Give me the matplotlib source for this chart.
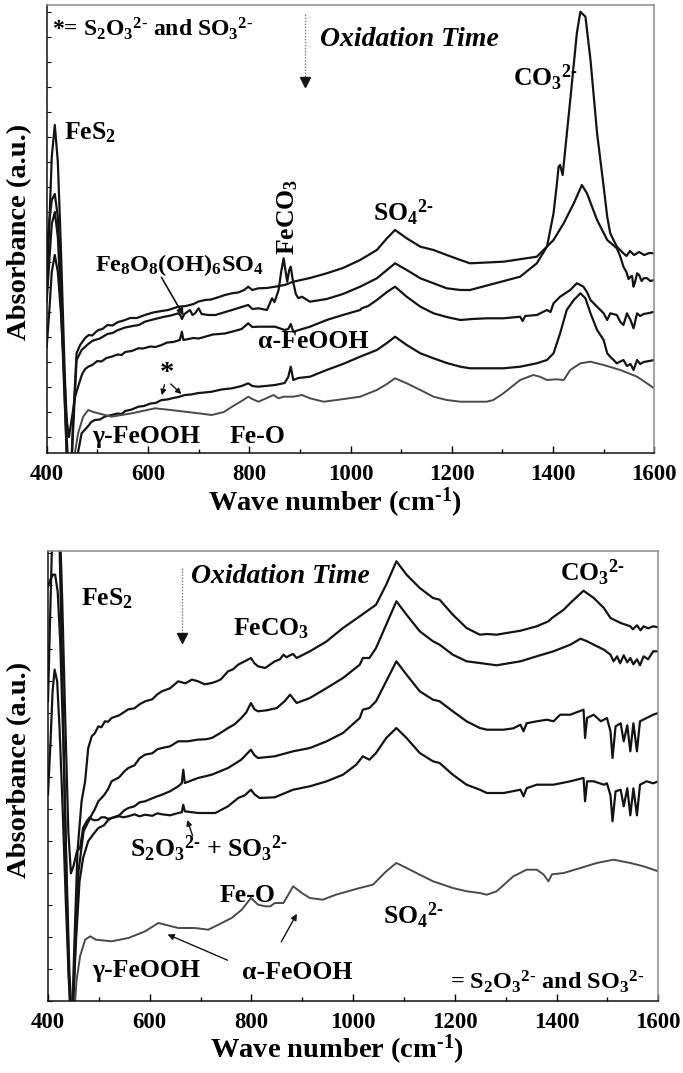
import matplotlib
matplotlib.use('Agg')
import matplotlib.pyplot as plt
from matplotlib.ticker import MultipleLocator

plt.rcParams.update({
    'font.family': ['Liberation Serif', 'DejaVu Serif'],
    'font.weight': 'bold',
    'mathtext.fontset': 'custom',
    'mathtext.rm': 'Liberation Serif:bold',
    'mathtext.it': 'Liberation Serif:bold:italic',
    'mathtext.bf': 'Liberation Serif:bold',
})

# ---------------- Top panel spectra (absorbance, a.u.) ----------------
top_wn_1 = [400, 405, 410, 416, 422, 428, 434, 440, 446, 452, 459, 466, 476, 483, 490, 497, 502, 510,
            520, 530, 541, 552, 565, 578, 594, 610, 627, 640, 660, 675, 690, 700, 713, 725, 740, 752,
            766, 778, 790, 798, 806, 818, 835, 851, 870, 887, 920, 953, 985, 1019, 1052, 1072, 1088,
            1111, 1138, 1164, 1190, 1217, 1236, 1302, 1368, 1401, 1421, 1441, 1457, 1467, 1487, 1507,
            1526, 1533, 1539, 1545, 1549, 1553, 1556, 1559, 1562, 1566, 1570, 1575, 1579, 1585, 1592,
            1600]
top_abs_1 = [165, 235, 305, 337, 300, 215, 115, 20, -35, 40, 108.7, 117, 124, 127, 126.5, 130, 132, 133,
             137, 136.5, 140, 141.5, 144, 144, 147, 149.5, 151, 152, 155.3, 156, 158, 160.5, 162, 162.5,
             165, 167, 168.7, 169.5, 172, 175.3, 172, 173.7, 174, 175.3, 177, 180.3, 184, 188.7, 194, 202,
             212, 223.7, 232, 223.7, 215.3, 212, 207, 202, 198.7, 200.3, 205.3, 222, 238.7, 258.7, 277,
             268.7, 242, 222, 213.7, 205.3, 195.3, 190, 183, 185.3, 186, 175.3, 180, 188.7, 187, 181,
             183.7, 184, 181, 182]

top_wn_2 = [400, 405, 410, 416, 422, 428, 434, 440, 446, 452, 459, 469, 482, 490, 495, 505, 520, 530,
            541, 555, 570, 582, 594, 610, 630, 645, 660, 665, 667, 672, 683, 688, 693, 700, 706, 719,
            733, 766, 798, 806, 818, 835, 845, 850, 858, 863, 868, 872, 875, 879, 882, 886, 892, 897,
            904, 920, 953, 985, 1019, 1052, 1072, 1088, 1111, 1138, 1164, 1190, 1217, 1236, 1335, 1368,
            1388, 1401, 1407, 1411, 1414, 1419, 1434, 1447, 1454, 1464, 1474, 1487, 1500, 1507, 1513,
            1526, 1539, 1545, 1552, 1560, 1570, 1580, 1590, 1600]
top_abs_2 = [210, 240, 262, 268, 245, 180, 90, 0, -40, 30, 102, 112, 118, 121, 122, 123.5, 128, 129, 132,
             134.5, 136, 137, 140.3, 142.5, 145, 146.5, 148.7, 146, 143, 148, 152, 147, 148.7, 153.7, 148,
             147, 147, 152, 157, 153, 153.7, 152, 163.7, 160, 172, 190, 203.7, 190, 180.3, 192, 195.3,
             182, 168, 163.7, 165.3, 160.3, 163, 168, 175.3, 183.7, 192, 198.7, 192, 183.7, 178.7, 173.7,
             172, 172, 185.3, 198.7, 215.3, 248.7, 275.3, 295.3, 297, 287, 362, 428.7, 450.3, 445.3,
             402, 328.7, 275.3, 245.3, 228.7, 215.3, 208.7, 206, 211, 207, 210, 207, 209, 208.7]

top_wn_3 = [400, 405, 410, 416, 422, 428, 434, 440, 444, 450, 456, 462, 470, 476, 482, 490, 500, 508,
            518, 528, 540, 548, 555, 568, 581, 590, 605, 615, 627, 638, 650, 663, 667, 670, 690, 700,
            713, 728, 740, 752, 766, 785, 798, 806, 818, 851, 870, 877, 882, 887, 920, 953, 985, 1019,
            1022, 1035, 1052, 1072, 1088, 1111, 1138, 1164, 1190, 1217, 1240, 1269, 1302, 1335, 1340,
            1345, 1368, 1388, 1395, 1401, 1414, 1434, 1447, 1454, 1460, 1467, 1474, 1487, 1500, 1507,
            1513, 1526, 1533, 1539, 1546, 1553, 1559, 1566, 1572, 1579, 1590, 1600]
top_abs_3 = [115, 150, 190, 207, 190, 150, 95, 40, 25, 45, 65, 75.3, 88, 93, 95.3, 97, 101, 100.5, 104,
             105.3, 107.5, 107, 110, 111, 113.7, 113.5, 115.5, 115, 117, 119.5, 120, 122, 130.3, 122,
             124, 123.5, 125.3, 127.5, 128, 128.5, 130.3, 133, 138.7, 135, 135.3, 135.3, 132, 133, 138,
             130.3, 135.3, 142, 147, 152, 153.7, 156, 162, 170, 175.3, 165.3, 155.3, 148.7, 145, 142,
             143, 143.7, 143.7, 145.3, 141, 146, 147, 152, 150, 158.7, 165.3, 172, 178.7, 177, 175.3,
             170, 162, 155.3, 148.7, 142, 148.7, 147, 140, 137, 148.7, 142, 133.7, 148.7, 146, 148, 149,
             150.3]

top_wn_4 = [400, 405, 410, 416, 422, 428, 434, 440, 447, 454, 462, 469, 482, 488, 495, 505, 515, 528,
            540, 548, 555, 568, 581, 592, 605, 615, 627, 638, 650, 660, 673, 685, 700, 712, 726, 745,
            766, 785, 798, 806, 818, 851, 870, 877, 882, 887, 897, 920, 953, 985, 1019, 1052, 1072,
            1088, 1111, 1138, 1164, 1190, 1217, 1236, 1302, 1335, 1368, 1388, 1401, 1414, 1427, 1441,
            1454, 1464, 1474, 1487, 1500, 1507, 1513, 1526, 1539, 1546, 1553, 1559, 1566, 1572, 1579,
            1590, 1600]
top_abs_4 = [160, 200, 238, 250, 225, 160, 80, 5, -30, -10, 10, 28.7, 36, 40, 42, 42.5, 45.5, 47, 48.5,
             48, 51, 52.5, 55.3, 56, 58.5, 59, 62, 62.5, 64, 65, 67, 67.5, 69, 69.5, 70.3, 72.5, 73.7,
             76, 78.7, 76, 75.3, 77, 79, 85, 95.3, 82, 84, 85.3, 92, 98, 105.3, 112, 119, 125.3, 117,
             108.7, 103.7, 99, 95.3, 93.7, 93.7, 95.3, 98.7, 102, 108.7, 128.7, 152, 162, 168.7, 163.7,
             148.7, 132, 122, 108.7, 105.3, 98.7, 102, 96, 98, 92, 102, 98, 100, 101, 102]

top_wn_5 = [450, 456, 462, 472, 482, 492, 502, 528, 568, 614, 645, 673, 700, 726, 750, 766, 785, 798,
            806, 818, 835, 848, 858, 868, 887, 904, 920, 947, 973, 1019, 1052, 1072, 1088, 1111, 1138,
            1164, 1190, 1217, 1236, 1269, 1282, 1302, 1335, 1361, 1374, 1388, 1407, 1421, 1434, 1454,
            1474, 1500, 1533, 1566, 1600]
top_abs_5 = [-10, 10, 28.7, 45.3, 52, 50, 48.7, 45.3, 48.7, 53.7, 52, 50.3, 48.7, 47, 50, 55.3, 61, 65.3,
             63, 60.3, 64, 67, 63.7, 65.3, 65.3, 67, 63.7, 60.3, 62, 65.3, 72, 78, 83.7, 78.7, 72, 65.3,
             62, 60.3, 60.3, 60.3, 62, 68.7, 82, 87, 85.3, 82, 82.7, 82, 92, 98.7, 100.3, 97, 92, 85.3,
             73.7]

# ---------------- Bottom panel spectra (absorbance, a.u.) ----------------
bot_wn_1 = [400, 404, 408, 412, 418, 423, 428, 434, 440, 446, 452, 458, 466, 473, 479, 486, 492, 499,
            505, 512, 518, 525, 540, 558, 570, 580, 591, 605, 615, 624, 640, 656, 670, 683, 695, 708,
            722, 732, 740, 754, 764, 774, 787, 799, 806, 813, 827, 846, 856, 863, 869, 876, 882, 889,
            915, 948, 980, 1013, 1045, 1065, 1085, 1105, 1131, 1157, 1170, 1196, 1223, 1249, 1263, 1282,
            1329, 1361, 1384, 1391, 1414, 1427, 1453, 1473, 1493, 1506, 1526, 1545, 1550, 1558, 1565,
            1571, 1580, 1590, 1600]
bot_abs_1 = [300, 380, 460, 520, 520, 450, 330, 180, 40, -40, 60, 150, 200, 220, 253, 265, 268, 275, 274,
             280, 279.5, 283.3, 286, 292, 293, 297, 300, 302, 307, 310, 313, 320, 318, 321.7, 320, 317,
             318.3, 320, 322, 330, 332, 336.7, 340, 343.3, 338, 335, 333.3, 340, 342, 346.6, 344, 346,
             347.3, 343.3, 350, 360, 373.3, 385, 396.6, 416.6, 440, 426.6, 413.3, 403.3, 401.6, 386.6,
             373.3, 366.6, 367.3, 366.6, 370.6, 375, 380, 383.3, 391.6, 398.3, 410.6, 403.3, 393.3,
             383.3, 378.3, 375, 372, 376, 371, 375, 373, 375, 374]

bot_wn_2 = [400, 405, 410, 414, 419, 424, 430, 436, 442, 448, 454, 460, 470, 486, 492, 499, 510, 518,
            525, 540, 550, 558, 570, 580, 591, 605, 615, 624, 640, 656, 675, 695, 710, 722, 738, 754,
            767, 780, 790, 799, 806, 813, 830, 850, 865, 876, 889, 915, 948, 980, 1013, 1019, 1032,
            1045, 1065, 1085, 1105, 1131, 1157, 1170, 1196, 1223, 1249, 1282, 1329, 1361, 1394, 1427,
            1447, 1460, 1473, 1493, 1506, 1512, 1519, 1525, 1532, 1539, 1545, 1551, 1558, 1564, 1571,
            1580, 1590, 1600]
bot_abs_2 = [415, 422, 426.7, 426.7, 410, 360, 260, 140, 30, -30, 60, 130, 170, 186.6, 192, 200, 206,
             212, 220, 224, 230, 233.3, 236, 243, 246.7, 248, 252, 253.3, 255, 260, 260, 261.7, 262,
             263.3, 268, 273.3, 277, 283.3, 289, 298.3, 292, 290, 291, 293.3, 300, 306.6, 298.3, 303.3,
             313.3, 323.3, 336.6, 343.3, 343.3, 353.3, 376.6, 400, 386.6, 370, 360, 356.6, 346.6, 340,
             338.3, 336, 340, 345, 350, 356.6, 362.6, 360, 356.6, 351.6, 346.6, 340, 345, 338, 346, 339,
             343.3, 337, 342, 336, 345, 342, 350, 350]

bot_wn_3 = [400, 405, 409, 413, 418, 423, 429, 435, 441, 447, 455, 462, 469, 479, 489, 499, 510, 518,
            525, 540, 550, 558, 570, 580, 591, 605, 615, 624, 640, 656, 663, 666, 669, 695, 722, 754,
            780, 799, 806, 813, 846, 882, 915, 948, 980, 1013, 1019, 1032, 1045, 1065, 1085, 1105, 1131,
            1157, 1170, 1196, 1223, 1249, 1263, 1296, 1315, 1329, 1335, 1341, 1361, 1381, 1394, 1407,
            1427, 1453, 1456, 1460, 1473, 1487, 1499, 1506, 1510, 1516, 1526, 1532, 1539, 1545, 1551,
            1558, 1564, 1577, 1590, 1600]
bot_abs_3 = [206.7, 260, 310, 331.7, 320, 270, 190, 100, 20, -30, 60, 120, 143.3, 160, 167, 173.3, 176,
             181, 183.3, 186, 191, 193.3, 195, 199, 200, 203, 205, 206.6, 210, 215, 218, 231.6, 218.3,
             223.3, 226.6, 233.3, 241.6, 251.6, 246, 243.3, 245, 250, 253.3, 260, 268.3, 283.3, 291.6,
             293.3, 300, 320, 340, 326.6, 310, 301.6, 300, 290, 280, 273.3, 271.6, 271.6, 273, 276.6,
             270, 278, 280, 281.6, 280, 286.6, 286.6, 291.6, 263.3, 283.3, 286.6, 280, 283.3, 270, 243.3,
             275, 278, 260, 276, 250, 278, 250, 280, 283.3, 286.6, 288.3]

bot_wn_4 = [400, 404, 410, 416, 422, 428, 434, 440, 445, 450, 457, 463, 469, 476, 482, 486, 492, 499,
            505, 512, 518, 525, 540, 548, 558, 570, 580, 591, 605, 615, 624, 640, 656, 663, 666, 669,
            695, 729, 754, 774, 787, 799, 806, 816, 846, 882, 915, 948, 980, 1006, 1019, 1032, 1045,
            1065, 1085, 1105, 1131, 1157, 1170, 1196, 1223, 1249, 1263, 1296, 1329, 1335, 1341, 1361,
            1394, 1427, 1453, 1456, 1460, 1473, 1493, 1499, 1506, 1510, 1516, 1526, 1532, 1539, 1545,
            1551, 1558, 1564, 1577, 1590, 1600]
bot_abs_4 = [455, 520, 560, 560, 500, 400, 280, 170, 128, 135, 150, 153.3, 173.3, 180, 184, 182, 181,
             181.6, 184, 184, 182.5, 183.3, 185, 184, 185, 187, 185, 186.6, 185.5, 188, 187, 186, 188.3,
             189, 196.6, 190, 188.3, 188.3, 195, 203.3, 206, 211.6, 207, 203.3, 204, 211.6, 215, 220,
             226.6, 236.6, 245, 241.6, 248.3, 263.3, 273.3, 263.3, 248.3, 240, 238.3, 226.6, 216.6,
             211.6, 208.3, 208.3, 211.6, 205, 213, 216.6, 216.6, 220, 223.3, 200, 220, 220, 216.6, 218,
             206, 180, 210, 211.6, 195, 213, 186, 213, 186, 216.6, 220, 218, 220]

bot_wn_5 = [452, 456, 463, 473, 483, 494, 525, 558, 591, 617, 656, 689, 715, 735, 761, 781, 799, 813,
            827, 837, 846, 863, 882, 900, 915, 940, 966, 1013, 1039, 1065, 1085, 1105, 1131, 1157, 1196,
            1223, 1249, 1263, 1282, 1315, 1341, 1361, 1374, 1384, 1391, 1414, 1447, 1479, 1512, 1545,
            1571, 1600]
bot_abs_5 = [-10, 20, 45, 61.6, 65, 61.6, 60, 63.3, 70, 78.3, 73.3, 73.3, 71.6, 76.6, 83.3, 91.6, 103.3,
             96.6, 95, 95, 98.3, 98.3, 115, 108, 103.3, 101.6, 106.6, 113.3, 116.6, 130, 138.3, 133.3,
             126.6, 120, 113.3, 110, 108.3, 106.6, 110, 125, 131.6, 131.6, 127, 120, 127, 128.3, 133.3,
             138.3, 141.6, 138.3, 135, 130]

x_ticks = [400, 600, 800, 1000, 1200, 1400, 1600]

BLACK = '#141414'
GREY = '#4a4a4a'

fig = plt.figure(figsize=(6.83, 10.73), dpi=100)
ax1 = fig.add_axes([46.7 / 683, 1 - 452.7 / 1073, 607.6 / 683, 447.7 / 1073])
ax2 = fig.add_axes([48 / 683, 1 - 1001.3 / 1073, 610.3 / 683, 450 / 1073])

top_curves = [(top_wn_1, top_abs_1), (top_wn_2, top_abs_2), (top_wn_3, top_abs_3), (top_wn_4, top_abs_4)]
for wn, a in top_curves:
    ax1.plot(wn, a, color=BLACK, lw=1.6, solid_joinstyle='round')
ax1.plot(top_wn_5, top_abs_5, color=GREY, lw=1.4)

bot_curves = [(bot_wn_1, bot_abs_1), (bot_wn_2, bot_abs_2), (bot_wn_3, bot_abs_3), (bot_wn_4, bot_abs_4)]
for wn, a in bot_curves:
    ax2.plot(wn, a, color=BLACK, lw=1.6, solid_joinstyle='round')
ax2.plot(bot_wn_5, bot_abs_5, color=GREY, lw=1.4)

ax1.set_ylim(9.3, 457)
ax2.set_ylim(0, 450)
for ax, ystep in ((ax1, 25), (ax2, 32)):
    ax.set_xlim(400, 1600)
    ax.set_xticks(x_ticks)
    ax.xaxis.set_minor_locator(MultipleLocator(100))
    ax.yaxis.set_major_locator(MultipleLocator(ystep))
    ax.tick_params(axis='x', which='major', direction='in', length=5, width=1.0,
                   top=False, labelsize=16.5, pad=8)
    ax.tick_params(axis='x', which='minor', direction='in', length=3, width=1.0, top=False)
    ax.tick_params(axis='y', which='major', direction='in', length=3, width=0.8,
                   right=False, labelleft=False)
    for lab in ax.get_xticklabels():
        lab.set_fontweight('bold')
    ax.spines['bottom'].set_color('#111111')
    ax.spines['left'].set_color('#111111')
    ax.spines['top'].set_color('#8a8a8a')
    ax.spines['right'].set_color('#8a8a8a')
    for s in ax.spines.values():
        s.set_linewidth(1.1)

# axis labels
XLAB = r'Wave number (cm$^{\mathrm{\text{-}1}}$)'
fig.text(335 / 683, 1 - 503 / 1073, XLAB, ha='center', va='center', fontsize=20.5, fontweight='bold')
fig.text(337 / 683, 1 - 1050 / 1073, XLAB, ha='center', va='center', fontsize=20.5, fontweight='bold')
fig.text(20 / 683, 1 - 232 / 1073, 'Absorbance (a.u.)', rotation=90, ha='center', va='center',
         fontsize=20.5, fontweight='bold')
fig.text(20 / 683, 1 - 770 / 1073, 'Absorbance (a.u.)', rotation=90, ha='center', va='center',
         fontsize=20.5, fontweight='bold')

FS = 18.5
S2O3 = r'$\mathrm{S_2O_3{}^{2\text{-}}}$'
SO3 = r'$\mathrm{SO_3{}^{2\text{-}}}$'
SO4 = r'$\mathrm{SO_4{}^{2\text{-}}}$'
CO3 = r'$\mathrm{CO_3{}^{2\text{-}}}$'

# ---------- top annotations ----------
ax1.text(410, 433, '*= ' + S2O3 + ' and ' + SO3, fontsize=17, va='center')
ax1.plot([910, 910], [448, 385], ls=(0, (1, 1.2)), color='#777777', lw=1.0)
ax1.plot([910], [380], marker='v', color=BLACK, ms=7)
ax1.text(940, 422, 'Oxidation Time', fontsize=20, fontstyle='italic', va='center')
ax1.text(1321, 384, CO3, fontsize=FS, va='center')
ax1.text(435, 329, r'$\mathrm{FeS_2}$', fontsize=FS, va='center')
ax1.text(495, 197, r'$\mathrm{Fe_8O_8(OH)_6SO_4}$', fontsize=17.5, va='center')
ax1.annotate('', xy=(673, 144), xytext=(624, 187),
             arrowprops=dict(arrowstyle='-|>', color=BLACK, lw=1.2, mutation_scale=10))
ax1.text(876, 245, r'$\mathrm{FeCO_3}$', fontsize=FS, rotation=90, ha='center', va='center')
ax1.text(1045, 249, SO4, fontsize=FS, va='center')
ax1.text(818, 120, 'α-FeOOH', fontsize=FS, va='center')
ax1.text(637, 88, '*', fontsize=FS + 2, ha='center', va='center')
ax1.annotate('', xy=(626, 64), xytext=(634, 80),
             arrowprops=dict(arrowstyle='-|>', color=BLACK, lw=1.0, mutation_scale=8))
ax1.annotate('', xy=(670, 66), xytext=(641, 80),
             arrowprops=dict(arrowstyle='-|>', color=BLACK, lw=1.0, mutation_scale=8))
ax1.text(489, 25, 'γ-FeOOH', fontsize=FS, va='center')
ax1.text(762, 25, 'Fe-O', fontsize=FS, va='center')

# ---------- bottom annotations ----------
ax2.text(465, 403, r'$\mathrm{FeS_2}$', fontsize=FS, va='center')
ax2.plot([664, 664], [433, 368], ls=(0, (1, 1.2)), color='#777777', lw=1.0)
ax2.plot([664], [363], marker='v', color=BLACK, ms=7)
ax2.text(682, 425, 'Oxidation Time', fontsize=20, fontstyle='italic', va='center')
ax2.text(764, 373, r'$\mathrm{FeCO_3}$', fontsize=FS, va='center')
ax2.text(1406, 428, CO3, fontsize=FS, va='center')
ax2.text(561, 152, S2O3 + ' + ' + SO3, fontsize=FS, va='center')
ax2.annotate('', xy=(672, 184), xytext=(686, 163),
             arrowprops=dict(arrowstyle='-|>', color=BLACK, lw=1.0, mutation_scale=8))
ax2.text(738, 106, 'Fe-O', fontsize=FS, va='center')
ax2.text(486, 31, 'γ-FeOOH', fontsize=FS, va='center')
ax2.text(781, 29, 'α-FeOOH', fontsize=FS, va='center')
ax2.annotate('', xy=(630, 68), xytext=(758, 40),
             arrowprops=dict(arrowstyle='-|>', color=BLACK, lw=1.0, mutation_scale=9))
ax2.annotate('', xy=(892, 90), xytext=(856, 57),
             arrowprops=dict(arrowstyle='-|>', color=BLACK, lw=1.0, mutation_scale=9))
ax2.text(1059, 85, SO4, fontsize=FS, va='center')
ax2.text(1190, 20, '= ' + S2O3 + ' and ' + SO3, fontsize=17.5, va='center')

fig.savefig('out.png', dpi=100)
